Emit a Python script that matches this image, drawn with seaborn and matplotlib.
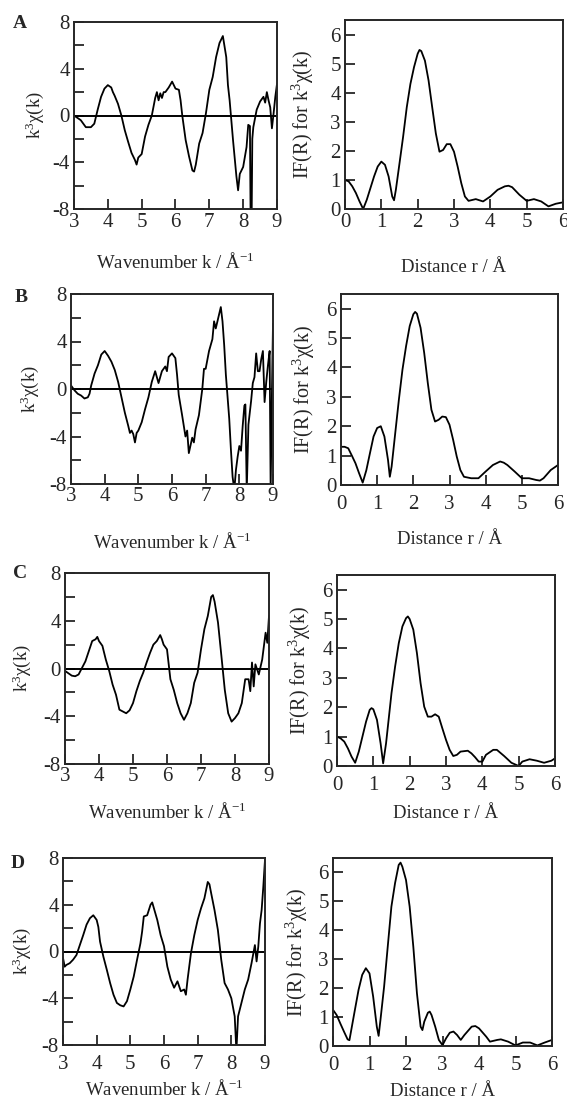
import matplotlib
matplotlib.use("Agg")
import matplotlib.pyplot as plt
import seaborn as sns
import numpy as np

# ---------------- data ----------------
kA = [3.0, 3.2, 3.35, 3.5, 3.6, 3.7, 3.8, 3.9, 4.0, 4.1, 4.15, 4.2, 4.3, 4.4, 4.5, 4.6, 4.7, 4.8, 4.85, 4.9,
      5.0, 5.1, 5.2, 5.3, 5.4, 5.45, 5.5, 5.55, 5.6, 5.65, 5.7, 5.8, 5.9, 6.0, 6.1, 6.15, 6.2, 6.3, 6.4, 6.5,
      6.55, 6.6, 6.7, 6.8, 6.9, 7.0, 7.1, 7.2, 7.3, 7.4, 7.5, 7.55, 7.6, 7.7, 7.8, 7.85, 7.9, 8.0, 8.1, 8.15,
      8.2, 8.22, 8.25, 8.27, 8.3, 8.4, 8.5, 8.6, 8.65, 8.7, 8.75, 8.8, 8.85, 8.9, 8.95, 9.0]
chiA = [0.0, -0.4, -1.0, -1.0, -0.7, 0.5, 1.6, 2.3, 2.6, 2.4, 2.0, 1.7, 1.0, 0.0, -1.25, -2.25, -3.2, -3.8, -4.2, -3.6,
        -3.3, -1.8, -0.8, 0.0, 1.5, 2.0, 1.3, 1.9, 1.5, 2.0, 2.0, 2.4, 2.9, 2.3, 2.2, 1.3, 0.0, -2.1, -3.5, -4.7,
        -4.8, -4.2, -2.4, -1.5, 0.2, 2.2, 3.3, 5.0, 6.2, 6.8, 5.0, 2.6, 1.3, -2.1, -5.2, -6.4, -5.0, -4.4, -2.7, -0.8,
        -0.9, -9.0, -9.0, -2.0, -1.0, 0.5, 1.2, 1.6, 1.1, 2.0, 1.3, 0.7, -1.1, 0.2, 1.6, 2.7]

rA = [0.0, 0.1, 0.2, 0.3, 0.4, 0.5, 0.6, 0.7, 0.8, 0.9, 1.0, 1.1, 1.2, 1.3, 1.35, 1.4, 1.5, 1.6, 1.7, 1.8,
      1.9, 2.0, 2.05, 2.1, 2.2, 2.3, 2.4, 2.5, 2.6, 2.7, 2.8, 2.9, 3.0, 3.1, 3.2, 3.3, 3.4, 3.6, 3.8, 4.0,
      4.2, 4.4, 4.5, 4.6, 4.8, 5.0, 5.2, 5.4, 5.6, 5.8, 6.0]
ftA = [1.0, 0.95, 0.78, 0.55, 0.26, 0.0, 0.32, 0.72, 1.12, 1.46, 1.63, 1.52, 1.12, 0.43, 0.3, 0.66, 1.57, 2.49, 3.5, 4.3,
       4.88, 5.34, 5.47, 5.43, 5.1, 4.42, 3.5, 2.6, 1.97, 2.03, 2.23, 2.23, 1.97, 1.46, 0.89, 0.43, 0.28, 0.34, 0.26, 0.43,
       0.66, 0.78, 0.8, 0.75, 0.49, 0.28, 0.34, 0.26, 0.09, 0.18, 0.23]

kB = [3.0, 3.1, 3.2, 3.3, 3.4, 3.5, 3.55, 3.6, 3.7, 3.8, 3.9, 4.0, 4.1, 4.2, 4.3, 4.4, 4.5, 4.6, 4.7, 4.75,
      4.8, 4.85, 4.9, 4.95, 5.0, 5.1, 5.2, 5.3, 5.4, 5.5, 5.6, 5.7, 5.8, 5.85, 5.9, 6.0, 6.1, 6.15, 6.2, 6.3,
      6.4, 6.45, 6.5, 6.6, 6.65, 6.7, 6.8, 6.9, 6.95, 7.0, 7.1, 7.2, 7.25, 7.3, 7.4, 7.45, 7.5, 7.55, 7.6, 7.7,
      7.75, 7.8, 7.85, 7.9, 7.95, 8.0, 8.05, 8.1, 8.15, 8.18, 8.22, 8.27, 8.35, 8.4, 8.45, 8.5, 8.55, 8.6, 8.65, 8.7,
      8.75, 8.8, 8.85, 8.9, 8.93, 8.97, 9.0]
chiB = [0.3, -0.1, -0.4, -0.55, -0.8, -0.7, -0.4, 0.3, 1.3, 2.0, 2.9, 3.2, 2.8, 2.3, 1.6, 0.6, -0.7, -2.0, -3.1, -3.7,
        -3.5, -3.8, -4.5, -3.7, -3.5, -2.8, -1.7, -0.7, 0.6, 1.5, 0.5, 1.5, 1.9, 1.5, 2.7, 3.0, 2.6, 1.2, -0.5, -2.2,
        -4.0, -3.5, -5.4, -4.1, -4.5, -3.4, -2.2, 0.0, 1.7, 1.7, 3.2, 4.2, 5.7, 5.1, 6.3, 6.9, 5.7, 3.7, 1.2, -2.5,
        -5.1, -7.4, -8.5, -6.8, -5.7, -4.8, -5.2, -3.1, -1.4, -1.3, -8.6, -3.0, -1.0, 0.5, 1.0, 3.0, 1.5, 1.5, 2.5, 3.2,
        -1.1, 0.6, 2.0, 3.2, -8.5, 0.0, 5.5]

rB = [0.0, 0.1, 0.2, 0.3, 0.4, 0.5, 0.6, 0.7, 0.8, 0.9, 1.0, 1.1, 1.2, 1.3, 1.35, 1.4, 1.5, 1.6, 1.7, 1.8,
      1.9, 2.0, 2.05, 2.1, 2.2, 2.3, 2.4, 2.5, 2.6, 2.7, 2.8, 2.9, 3.0, 3.1, 3.2, 3.3, 3.4, 3.6, 3.8, 4.0,
      4.2, 4.4, 4.5, 4.6, 4.8, 5.0, 5.2, 5.4, 5.5, 5.6, 5.8, 6.0]
ftB = [1.3, 1.3, 1.25, 1.0, 0.74, 0.4, 0.08, 0.5, 1.08, 1.65, 1.94, 2.0, 1.65, 0.85, 0.28, 0.63, 1.77, 2.9, 3.93, 4.73,
       5.41, 5.81, 5.89, 5.83, 5.35, 4.5, 3.47, 2.56, 2.16, 2.22, 2.33, 2.31, 2.05, 1.54, 0.97, 0.51, 0.28, 0.23, 0.23, 0.46,
       0.68, 0.8, 0.76, 0.68, 0.46, 0.23, 0.23, 0.17, 0.15, 0.23, 0.51, 0.68]

kC = [3.0, 3.1, 3.2, 3.3, 3.4, 3.5, 3.6, 3.7, 3.8, 3.9, 3.95, 4.0, 4.1, 4.2, 4.3, 4.4, 4.5, 4.6, 4.7, 4.8,
      4.9, 5.0, 5.1, 5.2, 5.3, 5.4, 5.5, 5.6, 5.7, 5.8, 5.85, 5.9, 6.0, 6.1, 6.2, 6.3, 6.4, 6.5, 6.6, 6.7,
      6.8, 6.9, 7.0, 7.1, 7.2, 7.3, 7.35, 7.4, 7.5, 7.6, 7.7, 7.8, 7.9, 8.0, 8.1, 8.2, 8.3, 8.4, 8.45, 8.5,
      8.55, 8.6, 8.7, 8.8, 8.9, 8.95, 9.0]
chiC = [-0.2, -0.4, -0.6, -0.65, -0.5, 0.05, 0.6, 1.45, 2.3, 2.45, 2.65, 2.3, 1.9, 0.75, -0.2, -1.35, -2.2, -3.45, -3.6, -3.75,
        -3.5, -2.9, -1.9, -1.05, -0.35, 0.5, 1.3, 2.0, 2.3, 2.8, 2.45, 2.0, 1.6, -0.9, -1.8, -2.9, -3.75, -4.3, -3.75, -2.9,
        -1.2, -0.35, 1.6, 3.3, 4.4, 6.0, 6.15, 5.6, 3.85, 1.05, -1.8, -3.75, -4.45, -4.15, -3.75, -2.9, -0.9, -0.9, -1.9, 0.5,
        -1.5, 0.35, -0.5, 0.75, 3.0, 2.15, 4.4]

rC = [0.0, 0.1, 0.2, 0.3, 0.4, 0.5, 0.6, 0.7, 0.8, 0.9, 0.95, 1.0, 1.1, 1.2, 1.27, 1.35, 1.4, 1.5, 1.6, 1.7,
      1.8, 1.9, 1.95, 2.0, 2.1, 2.2, 2.3, 2.4, 2.5, 2.6, 2.7, 2.8, 2.9, 3.0, 3.1, 3.2, 3.3, 3.4, 3.6, 3.7,
      3.8, 3.9, 4.0, 4.1, 4.3, 4.4, 4.6, 4.8, 5.0, 5.1, 5.3, 5.5, 5.7, 5.9, 6.0]
ftC = [1.0, 0.94, 0.83, 0.6, 0.32, 0.11, 0.49, 1.0, 1.51, 1.91, 1.97, 1.93, 1.57, 0.77, 0.09, 0.77, 1.34, 2.48, 3.39, 4.18,
       4.75, 5.03, 5.09, 5.0, 4.64, 3.84, 2.82, 2.02, 1.68, 1.68, 1.76, 1.68, 1.28, 0.89, 0.55, 0.34, 0.38, 0.49, 0.52, 0.43,
       0.3, 0.15, 0.15, 0.38, 0.55, 0.55, 0.34, 0.11, 0.0, 0.15, 0.23, 0.18, 0.11, 0.18, 0.26]

kD = [3.0, 3.05, 3.1, 3.2, 3.3, 3.4, 3.5, 3.6, 3.7, 3.8, 3.9, 4.0, 4.05, 4.1, 4.2, 4.3, 4.4, 4.5, 4.6, 4.7,
      4.8, 4.9, 5.0, 5.1, 5.2, 5.3, 5.35, 5.4, 5.5, 5.6, 5.65, 5.7, 5.8, 5.9, 6.0, 6.1, 6.2, 6.3, 6.4, 6.5,
      6.6, 6.65, 6.7, 6.8, 6.9, 7.0, 7.1, 7.2, 7.3, 7.35, 7.4, 7.5, 7.6, 7.7, 7.8, 7.9, 8.0, 8.1, 8.15, 8.2,
      8.3, 8.4, 8.5, 8.6, 8.7, 8.75, 8.8, 8.85, 8.9, 8.95, 9.0]
chiD = [-0.55, -1.3, -1.15, -1.0, -0.7, -0.3, 0.55, 1.4, 2.3, 2.85, 3.1, 2.7, 2.1, 0.85, -0.45, -1.55, -2.7, -3.7, -4.4, -4.6,
        -4.7, -4.25, -3.25, -2.15, -0.7, 0.7, 1.7, 3.0, 3.1, 4.0, 4.2, 3.7, 2.7, 1.4, 0.45, -1.3, -2.4, -3.1, -2.55, -3.4,
        -3.25, -3.7, -2.4, -0.15, 1.4, 2.7, 3.7, 4.55, 5.95, 5.75, 5.0, 3.55, 1.85, -0.7, -2.7, -3.25, -4.0, -5.55, -8.5, -5.55,
        -4.4, -3.25, -2.4, -1.0, 0.55, -0.85, 0.4, 2.4, 3.55, 5.55, 7.85]

rD = [0.0, 0.1, 0.2, 0.3, 0.4, 0.45, 0.5, 0.6, 0.7, 0.8, 0.9, 1.0, 1.1, 1.2, 1.25, 1.3, 1.4, 1.5, 1.6, 1.7,
      1.8, 1.85, 1.9, 2.0, 2.1, 2.2, 2.3, 2.4, 2.45, 2.5, 2.6, 2.65, 2.7, 2.8, 2.9, 3.0, 3.1, 3.2, 3.3, 3.4,
      3.5, 3.6, 3.8, 3.9, 4.0, 4.2, 4.3, 4.5, 4.6, 4.8, 5.0, 5.2, 5.4, 5.6, 5.8, 6.0]
ftD = [1.25, 1.07, 0.78, 0.5, 0.23, 0.2, 0.55, 1.25, 1.94, 2.46, 2.69, 2.51, 1.71, 0.67, 0.35, 0.9, 2.05, 3.44, 4.82, 5.63,
       6.26, 6.34, 6.2, 5.74, 4.82, 3.44, 1.82, 0.67, 0.55, 0.84, 1.15, 1.19, 1.07, 0.67, 0.21, 0.03, 0.27, 0.46, 0.5, 0.38,
       0.21, 0.38, 0.67, 0.69, 0.61, 0.32, 0.15, 0.21, 0.23, 0.15, 0.02, 0.12, 0.12, 0.02, 0.12, 0.21]

panel_letters = ["A", "B", "C", "D"]
k_tick_labels = ["3", "4", "5", "6", "7", "8", "9"]
chi_tick_labels = ["-8", "-4", "0", "4", "8"]
r_tick_labels = ["0", "1", "2", "3", "4", "5", "6"]
ft_tick_labels = ["0", "1", "2", "3", "4", "5", "6"]

left_x_label = "Wavenumber k / Å$^{\\mathrm{-1}}$"
left_y_label = "k$^{\\mathrm{3}}$χ(k)"
right_x_label = "Distance r / Å"
right_y_label = "IF(R) for k$^{\\mathrm{3}}$χ(k)"

# ---------------- style ----------------
sns.set_style("ticks")
plt.rcParams["font.family"] = ["Liberation Serif", "DejaVu Serif"]
plt.rcParams["mathtext.fontset"] = "custom"
plt.rcParams["mathtext.rm"] = "Liberation Serif"
plt.rcParams["mathtext.it"] = "Liberation Serif:italic"
plt.rcParams["axes.linewidth"] = 1.4
plt.rcParams["axes.unicode_minus"] = False

fig = plt.figure(figsize=(5.67, 11.03), dpi=100)

W, H = 567.0, 1103.0
# pixel boxes (left, top, right, bottom)
left_boxes = [(74, 22, 277, 209), (71, 294, 273, 484), (65, 573, 269, 764), (63, 858, 265, 1045)]
right_boxes = [(345, 20, 563, 209), (341, 294, 558, 485), (337, 575, 555, 766), (333, 858, 552, 1046)]
letter_pos = [(20, 23), (21, 297), (20, 573), (18, 864)]
# x-label centre y (px), y-label gap (px from left spine), tick-label pads (pt)
left_xlab_y = [262, 542, 812, 1089]
right_xlab_y = [267, 540, 813, 1092]
left_ylab_gap = [39, 41, 43, 41]
right_ylab_gap = [42, 37, 37, 36]
left_xpad = [3, 2, 2.5, 7]
right_xpad = [3, 7, 7, 7]

def box_to_rect(b):
    l, t, r, bt = b
    return [l / W, 1 - bt / H, (r - l) / W, (bt - t) / H]

left_data = [(kA, chiA), (kB, chiB), (kC, chiC), (kD, chiD)]
right_data = [(rA, ftA), (rB, ftB), (rC, ftC), (rD, ftD)]

tick_fs = 15
lab_fs = 13.5

def place_labels(ax, box, xlab_y, ylab_gap):
    l, t, r, bt = box
    ax.xaxis.label.set_va("center")
    ax.xaxis.set_label_coords(0.5, -(xlab_y - bt) / (bt - t))
    ax.yaxis.label.set_va("center")
    ax.yaxis.set_label_coords(-ylab_gap / (r - l), 0.5)

for i in range(4):
    # ----- left: k^3 chi(k) -----
    ax = fig.add_axes(box_to_rect(left_boxes[i]))
    kx, cy = left_data[i]
    sns.lineplot(x=kx, y=cy, ax=ax, color="black", lw=1.3, estimator=None, sort=False)
    ax.axhline(0, color="black", lw=1.4)
    ax.set_xlim(3, 9)
    ax.set_ylim(-8, 8)
    ax.set_xticks([float(t) for t in k_tick_labels])
    ax.set_xticklabels(k_tick_labels)
    ax.set_yticks([float(t) for t in chi_tick_labels])
    ax.set_yticklabels(chi_tick_labels)
    ax.set_yticks([-6, -2, 2, 6], minor=True)
    ax.tick_params(axis="both", which="major", direction="in", length=7, width=1.3,
                   labelsize=tick_fs, pad=3)
    ax.tick_params(axis="x", which="major", pad=left_xpad[i])
    ax.tick_params(axis="y", which="minor", direction="in", length=7, width=1.3)
    ax.set_xlabel(left_x_label, fontsize=lab_fs)
    ax.set_ylabel(left_y_label, fontsize=lab_fs)
    place_labels(ax, left_boxes[i], left_xlab_y[i], left_ylab_gap[i])
    for s in ax.spines.values():
        s.set_visible(True)
        s.set_linewidth(1.4)
    fig.text(letter_pos[i][0] / W, 1 - letter_pos[i][1] / H, panel_letters[i],
             fontsize=14, fontweight="bold", ha="center", va="center")

    # ----- right: Fourier transform -----
    ax2 = fig.add_axes(box_to_rect(right_boxes[i]))
    rx, fy = right_data[i]
    sns.lineplot(x=rx, y=fy, ax=ax2, color="black", lw=1.3, estimator=None, sort=False)
    ax2.set_xlim(0, 6)
    ax2.set_ylim(0, 6.5)
    ax2.set_xticks([float(t) for t in r_tick_labels])
    ax2.set_xticklabels(r_tick_labels)
    ax2.set_yticks([float(t) for t in ft_tick_labels])
    ax2.set_yticklabels(ft_tick_labels)
    ax2.tick_params(axis="both", which="major", direction="in", length=7, width=1.3,
                    labelsize=tick_fs, pad=3)
    ax2.tick_params(axis="x", which="major", pad=right_xpad[i])
    ax2.set_xlabel(right_x_label, fontsize=lab_fs)
    ax2.set_ylabel(right_y_label, fontsize=14.5)
    place_labels(ax2, right_boxes[i], right_xlab_y[i], right_ylab_gap[i])
    for s in ax2.spines.values():
        s.set_visible(True)
        s.set_linewidth(1.4)

fig.savefig("out.png", dpi=100, facecolor="white")
